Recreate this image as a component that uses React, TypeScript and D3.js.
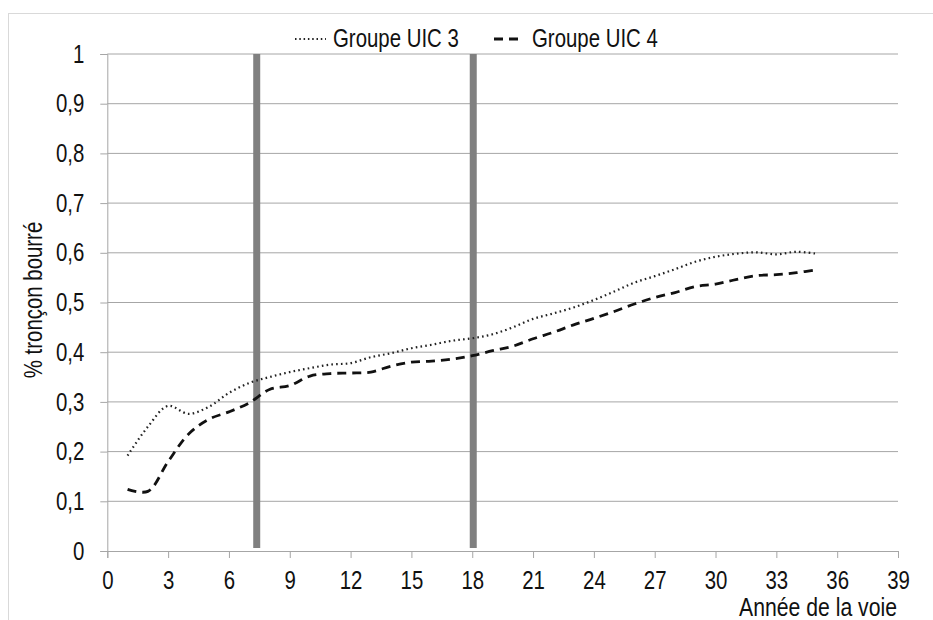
import React, { useEffect, useRef } from "react";
import * as d3 from "d3";

const years = [1,2,3,4,5,6,7,8,9,10,11,12,13,14,15,16,17,18,19,20,21,22,23,24,25,26,27,28,29,30,31,32,33,34,35];
const uic3 = [0.192,0.25,0.292,0.276,0.29,0.318,0.338,0.35,0.36,0.368,0.375,0.378,0.39,0.398,0.408,0.415,0.423,0.428,0.436,0.45,0.467,0.478,0.49,0.505,0.522,0.54,0.553,0.567,0.582,0.592,0.598,0.601,0.597,0.602,0.598];
const uic4 = [0.124,0.12,0.18,0.235,0.265,0.28,0.298,0.325,0.333,0.352,0.357,0.358,0.36,0.372,0.38,0.382,0.386,0.393,0.403,0.412,0.427,0.44,0.455,0.468,0.482,0.497,0.51,0.52,0.532,0.537,0.546,0.554,0.556,0.56,0.566];
const xTicks = [0,3,6,9,12,15,18,21,24,27,30,33,36,39];
const yTicks = [0,0.1,0.2,0.3,0.4,0.5,0.6,0.7,0.8,0.9,1];
const markers = [7.37, 18.05];
const seriesNames = ["Groupe UIC 3", "Groupe UIC 4"];

const FONT = "'Liberation Sans', Arial, sans-serif";
const NARROW = 0.8;
const FS = 25.5;

export default function App() {
  const ref = useRef<SVGSVGElement>(null);
  useEffect(() => {
    const svg = d3.select(ref.current);
    svg.selectAll("*").remove();
    const x = d3.scaleLinear().domain([0, 39]).range([107.3, 898]);
    const y = d3.scaleLinear().domain([0, 1]).range([551, 54]);

    // outer frame
    svg.append("rect").attr("x", 8.5).attr("y", 13.5).attr("width", 940).attr("height", 700)
      .attr("fill", "white").attr("stroke", "#d9d9d9").attr("stroke-width", 1);

    // gridlines
    svg.append("g").selectAll("line").data(yTicks.filter(d => d > 0)).join("line")
      .attr("x1", x(0)).attr("x2", x(39)).attr("y1", d => y(d)).attr("y2", d => y(d))
      .attr("stroke", "#a6a6a6").attr("stroke-width", 1);

    // y axis
    const yAxis = svg.append("g").attr("transform", `translate(${x(0)},0)`)
      .call(d3.axisLeft(y).tickValues(yTicks).tickSize(7).tickPadding(16)
        .tickFormat(d => d3.format(".1~f")(d as number).replace(".", ",")));
    yAxis.select(".domain").attr("stroke", "#a6a6a6");
    yAxis.selectAll(".tick line").attr("stroke", "#a6a6a6");
    yAxis.selectAll("text").attr("font-family", FONT).attr("font-size", FS).attr("fill", "#111");

    // x axis
    const xAxis = svg.append("g").attr("transform", `translate(0,${y(0)})`)
      .call(d3.axisBottom(x).tickValues(xTicks).tickSize(7).tickPadding(13).tickFormat(d => String(d)));
    xAxis.select(".domain").attr("stroke", "#a6a6a6");
    xAxis.selectAll(".tick line").attr("stroke", "#a6a6a6");
    xAxis.selectAll("text").attr("font-family", FONT).attr("font-size", FS).attr("fill", "#111");

    // vertical marker bars
    svg.append("g").selectAll("line").data(markers).join("line")
      .attr("x1", d => x(d)).attr("x2", d => x(d)).attr("y1", y(1)).attr("y2", y(0) - 3)
      .attr("stroke", "#808080").attr("stroke-width", 7);

    const line = (vals: number[]) => d3.line<number>()
      .x((_, i) => x(years[i])).y(d => y(d)).curve(d3.curveCatmullRom.alpha(0.5))(vals);

    svg.append("path").attr("d", line(uic3)).attr("fill", "none")
      .attr("stroke", "#222").attr("stroke-width", 2.2).attr("stroke-dasharray", "1.6,3.2");
    svg.append("path").attr("d", line(uic4)).attr("fill", "none")
      .attr("stroke", "#111").attr("stroke-width", 2.8).attr("stroke-dasharray", "9,6");

    // legend
    const lg = svg.append("g");
    lg.append("line").attr("x1", 295).attr("x2", 326).attr("y1", 39).attr("y2", 39)
      .attr("stroke", "#222").attr("stroke-width", 2).attr("stroke-dasharray", "1.5,2.8");
    lg.append("text").attr("x", 333).attr("y", 47).text(seriesNames[0])
      .attr("font-family", FONT).attr("font-size", FS).attr("fill", "#111");
    lg.append("line").attr("x1", 494).attr("x2", 524).attr("y1", 39).attr("y2", 39)
      .attr("stroke", "#111").attr("stroke-width", 2.8).attr("stroke-dasharray", "9,6");
    lg.append("text").attr("x", 532).attr("y", 47).text(seriesNames[1])
      .attr("font-family", FONT).attr("font-size", FS).attr("fill", "#111");

    // axis titles
    svg.append("text").attr("transform", "translate(42,300) rotate(-90)").attr("text-anchor", "middle")
      .text("% tronçon bourré").attr("font-family", FONT).attr("font-size", FS).attr("fill", "#111");
    svg.append("text").attr("x", 897).attr("y", 616).attr("text-anchor", "end")
      .text("Année de la voie").attr("font-family", FONT).attr("font-size", 26.5).attr("fill", "#111");

    // condense all texts to mimic a narrow typeface
    svg.selectAll<SVGTextElement, unknown>("text").each(function () {
      const w = this.getComputedTextLength();
      if (w > 0) {
        this.setAttribute("textLength", String(w * NARROW));
        this.setAttribute("lengthAdjust", "spacingAndGlyphs");
      }
    });
  }, []);
  return (
    <svg ref={ref} width={933} height={620}
      style={{ position: "absolute", left: 0, top: 0, background: "white" }} />
  );
}
